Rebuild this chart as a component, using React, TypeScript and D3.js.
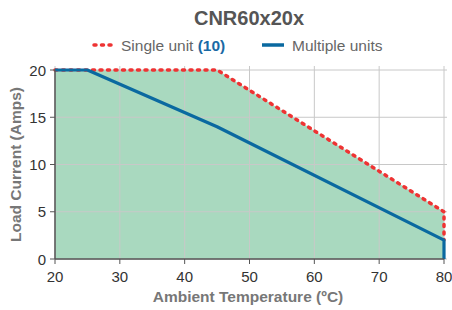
import React from 'react';
import * as d3 from 'd3';

// Data
const singleTemp = [20, 45, 80, 80];
const singleLoad = [20, 20, 5, 2];
const multiTemp = [20, 25, 45, 80, 80];
const multiLoad = [20, 20, 14, 2, 0];
const xTicks = [20, 30, 40, 50, 60, 70, 80];
const yTicks = [0, 5, 10, 15, 20];

const width = 452;
const height = 310;
const margin = { top: 70, right: 8, bottom: 51, left: 55 };

const App: React.FC = () => {
  const x = d3.scaleLinear().domain([20, 80]).range([margin.left, width - margin.right]);
  const y = d3.scaleLinear().domain([0, 20]).range([height - margin.bottom, margin.top]);

  const single = singleTemp.map((t, i) => [t, singleLoad[i]] as [number, number]);
  const multi = multiTemp.map((t, i) => [t, multiLoad[i]] as [number, number]);

  const line = d3.line<[number, number]>().x(d => x(d[0])).y(d => y(d[1]));
  const area = d3.area<[number, number]>()
    .x(d => x(d[0]))
    .y0(y(0))
    .y1(d => y(d[1]));

  const fillPts: [number, number][] = [...single.slice(0, 3), [80, 0]];

  const font = 'Arial, "Liberation Sans", Helvetica, sans-serif';
  const plotBottom = y(0);
  const plotTop = y(20);

  return (
    <svg width={width} height={height} style={{ position: 'absolute', left: 0, top: 0 }} fontFamily={font}>
      <rect width={width} height={height} fill="#fff" />
      <text x={249} y={25} textAnchor="middle" fontSize={20} fontWeight="bold" fill="#555">CNR60x20x</text>

      {/* legend */}
      <line x1={94} x2={114} y1={45} y2={45} stroke="#ee3333" strokeWidth={3.5} strokeDasharray="2 5.5" strokeLinecap="round" />
      <text x={121} y={50.5} fontSize={15.5} fill="#666">
        Single unit <tspan fontWeight="bold" fill="#1a6aa5">(10)</tspan>
      </text>
      <line x1={262} x2={284} y1={45} y2={45} stroke="#0a69a0" strokeWidth={3.5} />
      <text x={292} y={50.5} fontSize={15.5} fill="#666">Multiple units</text>

      <path d={area(fillPts) || ''} fill="#a9d9bf" />

      {/* grid */}
      {xTicks.map(t => (
        <line key={'gx' + t} x1={x(t)} x2={x(t)} y1={plotTop - 4} y2={plotBottom} stroke="#c8c8c8" strokeWidth={1} />
      ))}
      {yTicks.map(t => (
        <line key={'gy' + t} x1={margin.left} x2={width - margin.right + 3} y1={y(t)} y2={y(t)} stroke="#c8c8c8" strokeWidth={1} />
      ))}

      <path d={line(single) || ''} fill="none" stroke="#ee3333" strokeWidth={3.5} strokeDasharray="2 5.5" strokeLinecap="round" />
      <path d={line(multi) || ''} fill="none" stroke="#0a69a0" strokeWidth={3.2} strokeLinejoin="round" />

      {/* axes */}
      <line x1={margin.left} x2={margin.left} y1={plotTop} y2={plotBottom} stroke="#555" strokeWidth={1.5} />
      <line x1={margin.left} x2={width - margin.right} y1={plotBottom} y2={plotBottom} stroke="#555" strokeWidth={1.5} />
      {yTicks.map(t => (
        <g key={'ty' + t}>
          <line x1={margin.left - 5} x2={margin.left} y1={y(t)} y2={y(t)} stroke="#555" strokeWidth={1} />
          <text x={margin.left - 9} y={y(t) + 5.5} textAnchor="end" fontSize={15} fill="#333">{t}</text>
        </g>
      ))}
      {xTicks.map(t => (
        <g key={'tx' + t}>
          <line x1={x(t)} x2={x(t)} y1={plotBottom} y2={plotBottom + 5} stroke="#555" strokeWidth={1} />
          <text x={x(t)} y={plotBottom + 23} textAnchor="middle" fontSize={15} fill="#333">{t}</text>
        </g>
      ))}
      <text x={248} y={302} textAnchor="middle" fontSize={15.5} fontWeight="bold" fill="#777">Ambient Temperature (ºC)</text>
      <text transform={`translate(21,${(plotTop + plotBottom) / 2}) rotate(-90)`} textAnchor="middle" fontSize={15.5} fontWeight="bold" fill="#777">Load Current (Amps)</text>
    </svg>
  );
};

export default App;
